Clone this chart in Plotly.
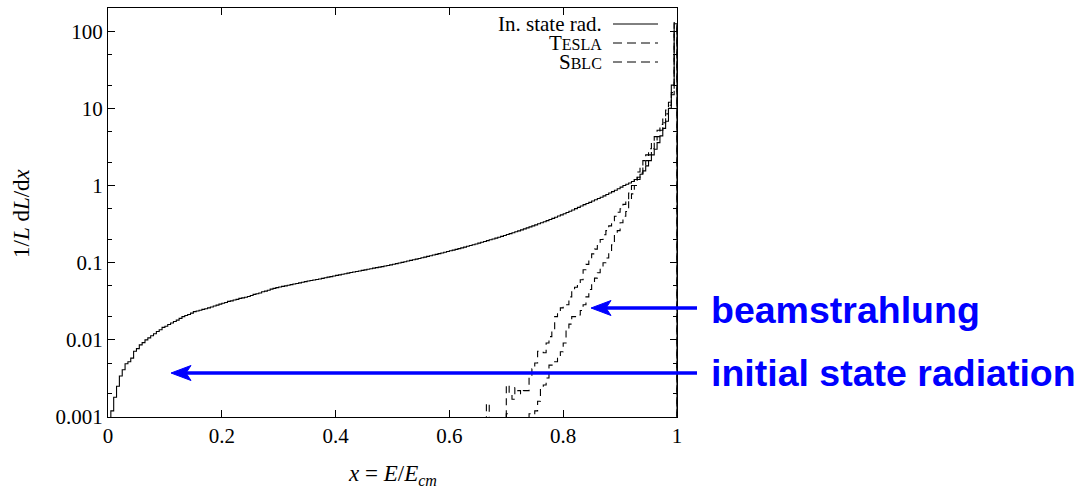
import numpy as np
import plotly.graph_objects as go

# ---------------- data ----------------
# initial state radiation histogram: 200 bins of width 0.005 from x=0 to x=1
isr_bin_width = 0.005
isr_values = [
    0.0008, 0.0012, 0.0018, 0.0025, 0.0034, 0.0041, 0.0049, 0.0052, 0.0058, 0.0071,
    0.0077, 0.0086, 0.0092, 0.0100, 0.0106, 0.0113, 0.0120, 0.0128, 0.0135, 0.0145,
    0.0150, 0.0158, 0.0165, 0.0173, 0.0180, 0.0190, 0.0200, 0.0207, 0.0213, 0.0222,
    0.0232, 0.0237, 0.0242, 0.0248, 0.0253, 0.0260, 0.0267, 0.0275, 0.0282, 0.0290,
    0.0298, 0.0305, 0.0315, 0.0320, 0.0328, 0.0335, 0.0345, 0.0350, 0.0357, 0.0365,
    0.0375, 0.0388, 0.0395, 0.0405, 0.0420, 0.0428, 0.0440, 0.0455, 0.0465, 0.0475,
    0.0485, 0.0493, 0.0500, 0.0510, 0.0520, 0.0530, 0.0538, 0.0548, 0.0558, 0.0568,
    0.0578, 0.0588, 0.0597, 0.0605, 0.0615, 0.0627, 0.0638, 0.0650, 0.0660, 0.0672,
    0.0685, 0.0696, 0.0708, 0.0720, 0.0733, 0.0746, 0.0758, 0.0770, 0.0782, 0.0795,
    0.0808, 0.0822, 0.0835, 0.0850, 0.0862, 0.0876, 0.0890, 0.0905, 0.0920, 0.0937,
    0.0955, 0.0972, 0.0990, 0.1010, 0.1030, 0.1050, 0.1070, 0.1092, 0.1112, 0.1135,
    0.1158, 0.1182, 0.1206, 0.1230, 0.1256, 0.1282, 0.1310, 0.1338, 0.1366, 0.1395,
    0.1425, 0.1457, 0.1490, 0.1523, 0.1557, 0.1592, 0.1630, 0.1668, 0.1708, 0.1750,
    0.1792, 0.1837, 0.1883, 0.1930, 0.1980, 0.2030, 0.2083, 0.2138, 0.2195, 0.2253,
    0.2315, 0.2380, 0.2445, 0.2515, 0.2588, 0.2663, 0.2742, 0.2825, 0.2910, 0.3000,
    0.3093, 0.3190, 0.3292, 0.3400, 0.3512, 0.3630, 0.3755, 0.3885, 0.4022, 0.4166,
    0.4318, 0.4478, 0.4647, 0.4825, 0.5013, 0.5212, 0.5424, 0.565, 0.585, 0.605,
    0.630, 0.655, 0.680, 0.705, 0.735, 0.765, 0.800, 0.835, 0.870, 0.910,
    0.955, 1.00, 1.04, 1.08, 1.13, 1.20, 1.28, 1.40, 1.55, 1.80,
    2.10, 2.50, 2.95, 3.60, 4.40, 5.50, 6.80, 10.0, 20.0, 125.0,
]

# beamstrahlung spectra: 68 bins of width 0.005 from x=0.66 to x=1 (0 = empty bin)
beam_x_start = 0.66
beam_bin_width = 0.005
tesla_values = [
    0, 0.0015, 0, 0, 0, 0, 0, 0,
    0.0026, 0.0020, 0.0017, 0.0024, 0.0022, 0.0020, 0.0022, 0.0022, 0.0033, 0.0042,
    0.0050, 0.0071, 0.0069, 0.0068, 0.0091, 0.011, 0.0134, 0.020, 0.023, 0.026,
    0.027, 0.0285, 0.036, 0.045, 0.048, 0.052, 0.060, 0.081, 0.095, 0.112,
    0.13, 0.15, 0.17, 0.20, 0.23, 0.26, 0.30, 0.35, 0.40, 0.45,
    0.50, 0.57, 0.66, 0.80, 1.0, 1.2, 1.5, 1.8, 2.1, 2.5,
    3.0, 3.6, 4.3, 5.2, 6.2, 7.5, 9.5, 12.0, 16.0, 130.0,
]
sblc_values = [
    0, 0, 0, 0, 0, 0, 0, 0,
    0.0011, 0, 0, 0, 0, 0, 0, 0, 0.0011, 0,
    0.0012, 0.0016, 0.0024, 0.0026, 0.0032, 0.0047, 0.0047, 0.0052, 0.0058, 0.0070,
    0.0091, 0.0134, 0.016, 0.020, 0.020, 0.021, 0.024, 0.0285, 0.036, 0.045,
    0.053, 0.063, 0.074, 0.085, 0.100, 0.115, 0.140, 0.170, 0.230, 0.260,
    0.330, 0.400, 0.460, 0.660, 0.780, 1.00, 1.20, 1.45, 1.75, 2.10,
    2.50, 3.00, 3.60, 4.30, 5.20, 6.50, 8.50, 11.0, 15.0, 110.0,
]

legend_labels = ["In. state rad.",
                 "T<span style='font-size:16px'>ESLA</span>",
                 "S<span style='font-size:16px'>BLC</span>"]
x_tick_vals = [0, 0.2, 0.4, 0.6, 0.8, 1]
x_tick_text = ["0", "0.2", "0.4", "0.6", "0.8", "1"]
y_tick_vals = [0.001, 0.01, 0.1, 1, 10, 100]
y_tick_text = ["0.001", "0.01", "0.1", "1", "10", "100"]
y_minor_vals = [m * 10.0 ** e for e in range(-3, 3) for m in (2, 5)]

# ---------------- helpers ----------------
EMPTY = 1e-6  # empty bins drawn below the axis range


def step_xy(x0, width, values):
    n = len(values)
    edges = list(np.round(x0 + width * np.arange(n + 1), 6))
    ys = [v if v > 0 else EMPTY for v in values]
    xs = edges + [edges[-1]]
    ys = ys + [ys[-1], EMPTY]
    return xs, ys


# plot area in pixels
L, T, W, H = 108, 8, 569, 409
FIG_W, FIG_H = 1082, 490


def px(x):
    return (x - L) / W


def py(y):
    return (T + H - y) / H


serif = "Liberation Serif"
sans = "Liberation Sans"

fig = go.Figure()

for vals, x0, bw, dash in [
    (isr_values, 0.0, isr_bin_width, "solid"),
    (tesla_values, beam_x_start, beam_bin_width, "7px,5px"),
    (sblc_values, beam_x_start, beam_bin_width, "7px,5px"),
]:
    xs, ys = step_xy(x0, bw, vals)
    fig.add_trace(go.Scatter(
        x=xs, y=ys, mode="lines",
        line=dict(shape="hv", color="black", width=1.1, dash=dash),
        showlegend=False, hoverinfo="skip",
    ))

annotations = []
shapes = []

# legend (gnuplot style: text right-aligned, sample to the right)
leg_rows = [24, 43, 62]
for lab, yy, dash in zip(legend_labels, leg_rows, ["solid", "dash", "dash"]):
    annotations.append(dict(
        xref="paper", yref="paper", x=px(604), y=py(yy),
        xanchor="right", yanchor="middle", text=lab, showarrow=False,
        font=dict(family=serif, size=21, color="black"),
    ))
    shapes.append(dict(
        type="line", xref="paper", yref="paper",
        x0=px(613), x1=px(658), y0=py(yy), y1=py(yy),
        line=dict(color="black", width=1,
                  dash="solid" if dash == "solid" else "9px,5px"),
    ))

# axis titles
annotations.append(dict(
    xref="paper", yref="paper", x=px(22), y=py(213),
    xanchor="center", yanchor="middle", textangle=-90, showarrow=False,
    text="1/<i>L</i> d<i>L</i>/d<i>x</i>",
    font=dict(family=serif, size=23, color="black"),
))
annotations.append(dict(
    xref="paper", yref="paper", x=px(392), y=py(475),
    xanchor="center", yanchor="middle", showarrow=False,
    text="<i>x</i> = <i>E</i>/<i>E<sub>cm</sub></i>",
    font=dict(family=serif, size=23, color="black"),
))

# blue arrows with labels
blue = "#0000FF"
for tip_x, yy, tail_x, label, ty in [
    (591, 308, 697, "beamstrahlung", 310),
    (171, 373, 697, "initial state radiation", 373),
]:
    head_len, head_half, notch = 20, 7.5, 5
    shapes.append(dict(
        type="line", xref="paper", yref="paper",
        x0=px(tip_x + head_len - notch), x1=px(tail_x), y0=py(yy), y1=py(yy),
        line=dict(color=blue, width=3.5),
    ))
    path = "M{},{} L{},{} L{},{} L{},{} Z".format(
        px(tip_x), py(yy),
        px(tip_x + head_len), py(yy - head_half),
        px(tip_x + head_len - notch), py(yy),
        px(tip_x + head_len), py(yy + head_half),
    )
    shapes.append(dict(
        type="path", xref="paper", yref="paper", path=path,
        fillcolor=blue, line=dict(color=blue, width=1),
    ))
    annotations.append(dict(
        xref="paper", yref="paper", x=px(709), y=py(ty),
        xanchor="left", yanchor="middle", showarrow=False,
        text="<b>" + label + "</b>",
        font=dict(family=sans, size=37.5, color=blue),
    ))

fig.update_layout(
    width=FIG_W, height=FIG_H,
    margin=dict(l=L, r=FIG_W - L - W, t=T, b=FIG_H - T - H, pad=0),
    paper_bgcolor="white", plot_bgcolor="white",
    showlegend=False,
    annotations=annotations, shapes=shapes,
    xaxis=dict(
        range=[0, 1], showgrid=False, zeroline=False,
        showline=True, linecolor="black", linewidth=1, mirror="ticks",
        ticks="inside", ticklen=7, tickwidth=1, tickcolor="black",
        tickmode="array", tickvals=x_tick_vals, ticktext=x_tick_text,
        tickfont=dict(family=serif, size=21, color="black"),
    ),
    yaxis=dict(
        type="log", range=[-3, np.log10(200)], showgrid=False, zeroline=False,
        showline=True, linecolor="black", linewidth=1, mirror="ticks",
        ticks="inside", ticklen=7, tickwidth=1, tickcolor="black",
        tickmode="array", tickvals=y_tick_vals, ticktext=y_tick_text,
        tickfont=dict(family=serif, size=21, color="black"),
        minor=dict(tickmode="array", tickvals=y_minor_vals, ticks="inside",
                   ticklen=4, tickwidth=1, tickcolor="black", showgrid=False),
    ),
)

fig.write_html("out.html")
